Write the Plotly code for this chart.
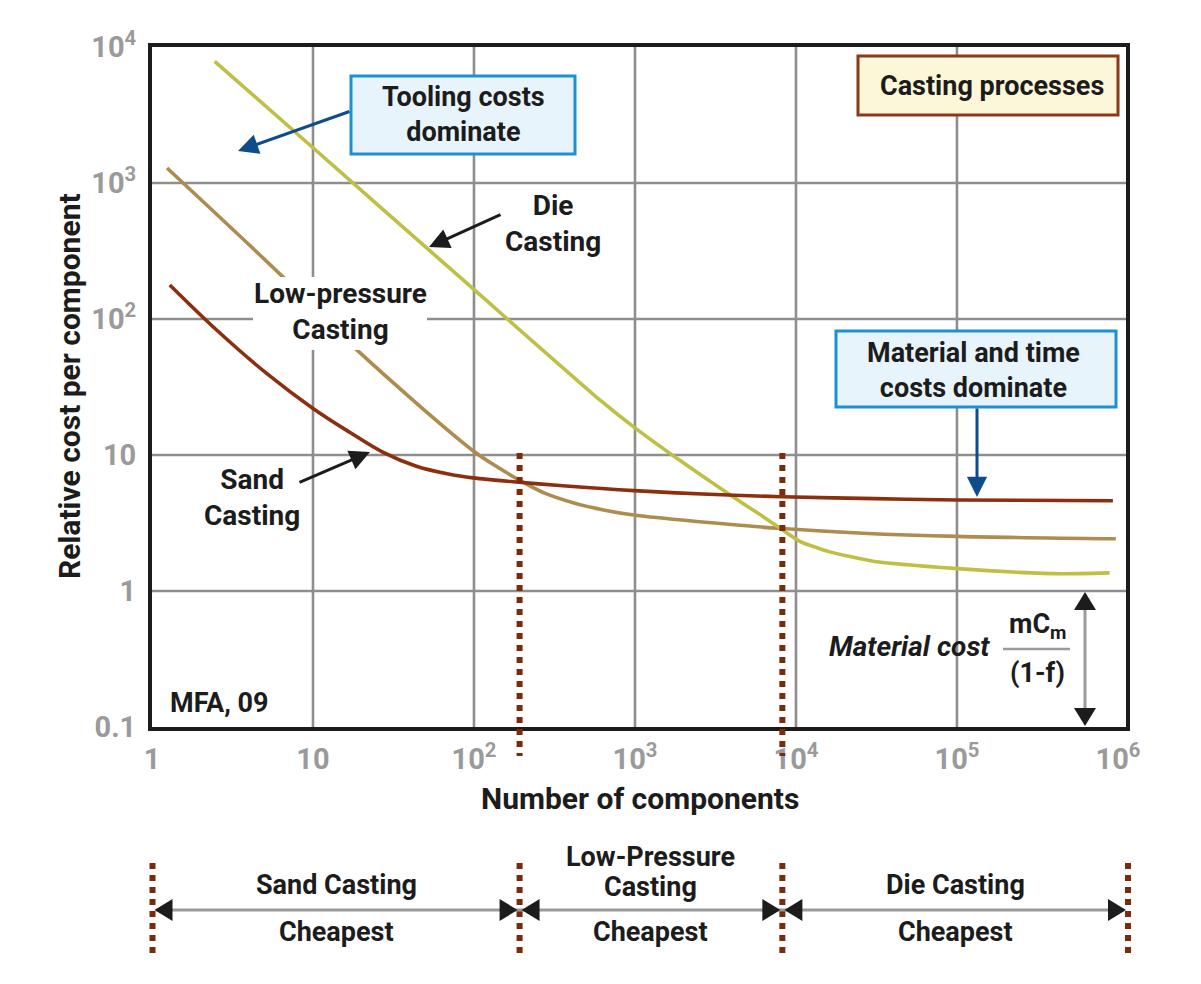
import math
import plotly.graph_objects as go

# ---------------- data ----------------
sand_n = [1.29, 2.52, 5.15, 10, 16.9, 27.1, 43.9, 70.6, 98.6, 192, 356, 986, 2870, 8200, 30900, 1.01e5, 9.3e5]
sand_cost = [178, 83, 39.8, 22, 14.7, 10.5, 8.26, 7.21, 6.79, 6.30, 5.94, 5.47, 5.14, 4.93, 4.78, 4.67, 4.61]

lp_n = [1.24, 6.5, 18.8, 98.2, 144, 192, 275, 423, 649, 1009, 2520, 7810, 26000, 1.01e5, 9.7e5]
lp_cost = [1288, 204, 59, 10.8, 7.98, 6.52, 5.24, 4.42, 3.93, 3.60, 3.23, 2.89, 2.66, 2.52, 2.42]

die_n = [2.45, 10, 98.6, 610, 1009, 1895, 3846, 5950, 8150, 10540, 16200, 30800,
         1.01e5, 2.45e5, 4.47e5, 8.87e5]
die_cost = [7850, 1816, 167, 25.2, 15.7, 9.14, 5.14, 3.66, 2.84, 2.32, 1.94, 1.65,
            1.46, 1.37, 1.34, 1.36]

crossover_n = [192, 8230]          # boundaries where the cheapest process changes
regions = ["Sand Casting", "Low-Pressure<br>Casting", "Die Casting"]

x_tickvals = [1, 10, 100, 1e3, 1e4, 1e5, 1e6]
x_ticktext = ["1", "10", "10<sup>2</sup>", "10<sup>3</sup>", "10<sup>4</sup>", "10<sup>5</sup>", "10<sup>6</sup>"]
y_tickvals = [0.1, 1, 10, 100, 1e3, 1e4]
y_ticktext = ["0.1", "1", "10", "10<sup>2</sup>", "10<sup>3</sup>", "10<sup>4</sup>"]
x_grid = [10, 100, 1e3, 1e4, 1e5]
y_grid = [1, 10, 100, 1e3]

# ---------------- layout geometry (screen pixels) ----------------
OFF = 8                       # page body margin
L, R, T, B = 152, 1126, 47, 727
FIG_W, FIG_H = 1185, 968
X0, X1 = 0.0, 6.05
Y0, Y1 = -1.0, 4.0

FONT = "Roboto, Arial, sans-serif"
DARK = "#1c1c1c"
GRID = "#8e8e8e"


def xp(px):
    return (px - L) / (R - L)


def yp(py):
    return (B - py) / (B - T)


def n_to_px(n):
    return L + (math.log10(n) - X0) / (X1 - X0) * (R - L)


def c_to_py(c):
    return B - (math.log10(c) - Y0) / (Y1 - Y0) * (B - T)


fig = go.Figure()
fig.add_trace(go.Scatter(x=lp_n, y=lp_cost, mode="lines",
                         line=dict(color="#ae8c4e", width=3.6, shape="spline", smoothing=0.9),
                         showlegend=False, hoverinfo="skip"))
fig.add_trace(go.Scatter(x=die_n, y=die_cost, mode="lines",
                         line=dict(color="#bfbf44", width=3.6, shape="spline", smoothing=0.5),
                         showlegend=False, hoverinfo="skip"))
fig.add_trace(go.Scatter(x=sand_n, y=sand_cost, mode="lines",
                         line=dict(color="#8b2f0e", width=3.6, shape="spline", smoothing=1.0),
                         showlegend=False, hoverinfo="skip"))

shapes = []
for gx in x_grid:
    shapes.append(dict(type="line", xref="x", yref="paper", x0=gx, x1=gx, y0=0, y1=1,
                       line=dict(color=GRID, width=2.6), layer="below"))
for gy in y_grid:
    shapes.append(dict(type="line", xref="paper", yref="y", x0=0, x1=1, y0=gy, y1=gy,
                       line=dict(color=GRID, width=2.6), layer="below"))


def rect(x0, y0, x1, y1, fill, line_color=None, lw=3):
    return dict(type="rect", xref="paper", yref="paper", x0=xp(x0), x1=xp(x1), y0=yp(y1), y1=yp(y0),
                fillcolor=fill, line=dict(color=line_color or fill, width=lw if line_color else 0),
                layer="above")


def tri(tip_x, tip_y, direction, length=18, half=11, color=DARK):
    if direction == "left":
        pts = [(tip_x, tip_y), (tip_x + length, tip_y - half), (tip_x + length, tip_y + half)]
    elif direction == "right":
        pts = [(tip_x, tip_y), (tip_x - length, tip_y - half), (tip_x - length, tip_y + half)]
    elif direction == "up":
        pts = [(tip_x, tip_y), (tip_x - half, tip_y + length), (tip_x + half, tip_y + length)]
    else:
        pts = [(tip_x, tip_y), (tip_x - half, tip_y - length), (tip_x + half, tip_y - length)]
    path = "M " + " L ".join(f"{xp(a):.5f},{yp(b):.5f}" for a, b in pts) + " Z"
    return dict(type="path", xref="paper", yref="paper", path=path, fillcolor=color,
                line=dict(color=color, width=0), layer="above")


def dotted(px, py0, py1):
    return dict(type="line", xref="paper", yref="paper", x0=xp(px), x1=xp(px), y0=yp(py0), y1=yp(py1),
                line=dict(color="#7b2a0c", width=6, dash="6px,6px"), layer="above")


# boxes
shapes.append(rect(351, 76, 575, 154, "#e8f4fc", "#1e8fd5"))       # tooling
shapes.append(rect(836, 331, 1116, 407, "#e8f4fc", "#1e8fd5"))     # material & time
shapes.append(rect(858, 56, 1118, 115, "#fdf7d9", "#8b3a18"))      # casting processes
shapes.append(rect(253, 277, 427, 350, "#ffffff"))                 # low-pressure label mask

# crossover dotted lines inside the plot
cross_px = [n_to_px(n) for n in crossover_n]
for cx in cross_px:
    shapes.append(dotted(cx, 453, 756))

# bottom band
bounds = [L + 0.5] + cross_px + [R + 2]
ARROW_Y = 910
for bx in bounds:
    shapes.append(dotted(bx, 863, 957))
shapes.append(dict(type="line", xref="paper", yref="paper", x0=xp(bounds[0] + 4), x1=xp(bounds[-1] - 4),
                   y0=yp(ARROW_Y), y1=yp(ARROW_Y), line=dict(color="#9a9a9a", width=3), layer="above"))
for a, b in zip(bounds[:-1], bounds[1:]):
    shapes.append(tri(a + 2, ARROW_Y, "left"))
    shapes.append(tri(b - 2, ARROW_Y, "right"))

# material cost double arrow
MX = 1085
top_py, bot_py = c_to_py(1), c_to_py(0.1)
shapes.append(dict(type="line", xref="paper", yref="paper", x0=xp(MX), x1=xp(MX), y0=yp(top_py + 4),
                   y1=yp(bot_py - 4), line=dict(color="#9a9a9a", width=3), layer="above"))
shapes.append(tri(MX, top_py + 1, "up", length=18, half=11))
shapes.append(tri(MX, bot_py - 1, "down", length=18, half=11))
shapes.append(dict(type="line", xref="paper", yref="paper", x0=xp(1003), x1=xp(1070), y0=yp(649), y1=yp(649),
                   line=dict(color="#9a9a9a", width=2.5), layer="above"))

annotations = []


def text_ann(txt, px, py, size=27, color=DARK, xanchor="center", italic=False, angle=0):
    return dict(text=txt, x=xp(px), y=yp(py), xref="paper", yref="paper", showarrow=False,
                xanchor=xanchor, yanchor="middle", textangle=angle,
                font=dict(family=FONT, size=size, color=color, weight="bold",
                          style="italic" if italic else "normal"))


def arrow_ann(tail, tip, color, width=3, size=1.35):
    return dict(text="", x=xp(tip[0]), y=yp(tip[1]), xref="paper", yref="paper",
                ax=tail[0] - tip[0], ay=tail[1] - tip[1], axref="pixel", ayref="pixel",
                showarrow=True, arrowhead=2, arrowsize=size, arrowwidth=width, arrowcolor=color)


annotations.append(text_ann("Tooling costs<br>dominate", 463, 115, size=27))
annotations.append(text_ann("Material and time<br>costs dominate", 973, 370, size=27))
annotations.append(text_ann("Casting processes", 992, 86, size=27))
annotations.append(text_ann("Die<br>Casting", 553, 224, size=28))
annotations.append(text_ann("Low-pressure<br>Casting", 340, 312, size=28))
annotations.append(text_ann("Sand<br>Casting", 252, 497, size=28))
annotations.append(text_ann("MFA, 09", 168, 703, size=27, xanchor="left"))
annotations.append(text_ann("Material cost", 909, 646, size=28, italic=True))
annotations.append(text_ann("mC<sub>m</sub>", 1037, 626, size=27))
annotations.append(text_ann("(1-f)", 1037, 673, size=27))

annotations.append(arrow_ann((351, 111), (238, 151), "#0e4d8a"))
annotations.append(arrow_ann((977, 407), (977, 497), "#0e4d8a"))
annotations.append(arrow_ann((502, 214), (429, 247), DARK))
annotations.append(arrow_ann((298, 483), (370, 452), DARK))

annotations.append(text_ann("Number of components", 640, 798, size=30))
annotations.append(text_ann("Relative cost per component", 69, 386, size=30, angle=-90))

for a, b, name in zip(bounds[:-1], bounds[1:], regions):
    mid = (a + b) / 2
    if "<br>" in name:
        first, second = name.split("<br>")
        annotations.append(text_ann(first, mid, 857, size=27))
        annotations.append(text_ann(second, mid, 887, size=27))
    else:
        annotations.append(text_ann(name, mid, 885, size=27))
    annotations.append(text_ann("Cheapest", mid, 932, size=27))

tickfont = dict(family=FONT, size=29, color="#9a9a9a", weight="bold")
fig.update_layout(
    width=FIG_W, height=FIG_H, autosize=False,
    margin=dict(l=L - OFF, r=FIG_W + OFF - R, t=T - OFF, b=FIG_H + OFF - B, pad=0),
    paper_bgcolor="white", plot_bgcolor="white",
    xaxis=dict(type="log", range=[X0, X1], tickvals=x_tickvals, ticktext=x_ticktext, showgrid=False,
               zeroline=False, showline=True, linecolor=DARK, linewidth=4, mirror=True,
               ticks="outside", ticklen=3, tickcolor="rgba(0,0,0,0)", tickfont=tickfont),
    yaxis=dict(type="log", range=[Y0, Y1], tickvals=y_tickvals, ticktext=y_ticktext, showgrid=False,
               zeroline=False, showline=True, linecolor=DARK, linewidth=4, mirror=True,
               ticks="outside", ticklen=6, tickcolor="rgba(0,0,0,0)", tickfont=tickfont),
    shapes=shapes, annotations=annotations, showlegend=False,
)

fig.write_html("out.html")
